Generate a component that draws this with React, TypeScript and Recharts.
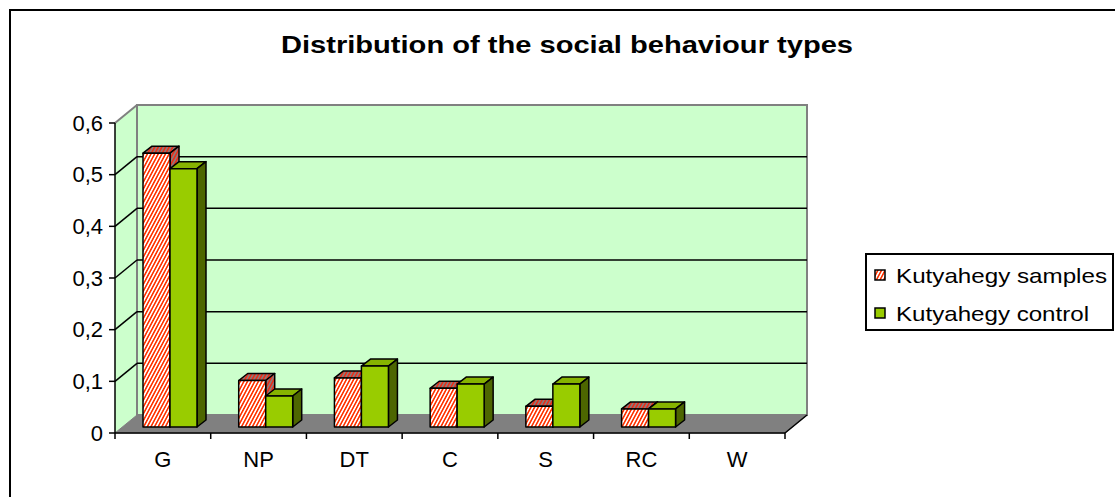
import { BarChart, Bar, XAxis, YAxis, ReferenceArea, Legend } from 'recharts';

const categories = ['G', 'NP', 'DT', 'C', 'S', 'RC', 'W'];
const samplesValues = [0.53, 0.09, 0.095, 0.075, 0.04, 0.035, 0];
const controlValues = [0.5, 0.06, 0.118, 0.083, 0.083, 0.035, 0];
const yTicks = [0, 0.1, 0.2, 0.3, 0.4, 0.5, 0.6];
const seriesNames = ['Kutyahegy samples', 'Kutyahegy control'];

const data = categories.map((name, i) => ({
    name,
    samples: samplesValues[i],
    control: controlValues[i],
}));

const FONT = '"Liberation Sans", Arial, sans-serif';

// 3D look: wall depth and bar offsets
const WALL_DX = 22;
const WALL_DY = 18;
const BAR_SHIFT_X = 7;
const BAR_SHIFT_Y = -6;
const BAR_DX = 9;
const BAR_DY = 7;

const STYLES: Record<string, { front: string; top: string; side: string }> = {
    samples: { front: 'url(#hatchFront)', top: 'url(#hatchDark)', side: 'url(#hatchDark)' },
    control: { front: '#99CC00', top: '#86B300', side: '#4D6600' },
};

const Box3D = (props: any) => {
    const { x, y, width, height, kind } = props;
    if (!height || height <= 0) return null;
    const s = STYLES[kind];
    const X = x + BAR_SHIFT_X;
    const Y = y + BAR_SHIFT_Y;
    const common = { stroke: '#000', strokeWidth: 1.5, strokeLinejoin: 'round' as const };
    return (
        <g>
            <polygon
                points={`${X},${Y} ${X + BAR_DX},${Y - BAR_DY} ${X + width + BAR_DX},${Y - BAR_DY} ${X + width},${Y}`}
                fill={s.top}
                {...common}
            />
            <polygon
                points={`${X + width},${Y} ${X + width + BAR_DX},${Y - BAR_DY} ${X + width + BAR_DX},${Y + height - BAR_DY} ${X + width},${Y + height}`}
                fill={s.side}
                {...common}
            />
            <rect x={X} y={Y} width={width} height={height} fill={s.front} {...common} />
        </g>
    );
};

// walls, floor and gridlines, built from the plot rectangle
const Walls = (props: any) => {
    const { x, y, width: w, height: h } = props;
    const n = categories.length;
    const steps = yTicks.length - 1;
    const bottom = y + h;
    return (
        <g>
            <polygon
                points={`${x},${bottom} ${x + WALL_DX},${bottom - WALL_DY} ${x + WALL_DX},${y - WALL_DY} ${x},${y}`}
                fill="#CCFFCC"
            />
            <rect x={x + WALL_DX} y={y - WALL_DY} width={w} height={h} fill="#CCFFCC" stroke="#808080" strokeWidth={2} />
            <line x1={x} y1={y} x2={x + WALL_DX} y2={y - WALL_DY} stroke="#808080" strokeWidth={2} />
            {yTicks.slice(1, -1).map((t, i) => {
                const yy = bottom - (h * (i + 1)) / steps;
                return (
                    <g key={t}>
                        <line x1={x} y1={yy} x2={x + WALL_DX} y2={yy - WALL_DY} stroke="#000" strokeWidth={1.5} />
                        <line x1={x + WALL_DX} y1={yy - WALL_DY} x2={x + w + WALL_DX} y2={yy - WALL_DY} stroke="#000" strokeWidth={1.5} />
                    </g>
                );
            })}
            <polygon
                points={`${x},${bottom} ${x + w},${bottom} ${x + w + WALL_DX},${bottom - WALL_DY} ${x + WALL_DX},${bottom - WALL_DY}`}
                fill="#808080"
                stroke="#808080"
            />
            <line x1={x + w} y1={bottom} x2={x + w + WALL_DX} y2={bottom - WALL_DY} stroke="#000" strokeWidth={1.5} />
            {Array.from({ length: n + 1 }).map((_, k) => (
                <line key={k} x1={x + (k * w) / n} y1={bottom} x2={x + (k * w) / n} y2={bottom + 6} stroke="#000" strokeWidth={1.5} />
            ))}
        </g>
    );
};

const LEGEND_LENGTHS: Record<string, number> = { 'Kutyahegy samples': 211, 'Kutyahegy control': 193 };

const LegendBox = (props: any) => {
    const items = [...(props.payload || [])].sort(
        (a: any, b: any) => seriesNames.indexOf(a.value) - seriesNames.indexOf(b.value)
    );
    return (
        <div style={{ width: 249, height: 78, border: '2px solid #000', boxSizing: 'border-box', background: '#fff' }}>
            <svg width={245} height={74}>
                {items.map((entry: any, i: number) => {
                    const cy = 20 + i * 38;
                    const fill = entry.dataKey === 'samples' ? 'url(#hatchFront)' : '#99CC00';
                    return (
                        <g key={i}>
                            <rect x={8} y={cy - 5} width={10} height={10} fill={fill} stroke="#000" strokeWidth={1.5} />
                            <text
                                x={29}
                                y={cy + 7.5}
                                fontFamily={FONT}
                                fontSize={21}
                                fill="#000"
                                textLength={LEGEND_LENGTHS[entry.value]}
                                lengthAdjust="spacingAndGlyphs"
                            >
                                {entry.value}
                            </text>
                        </g>
                    );
                })}
            </svg>
        </div>
    );
};

export default function App() {
    return (
        <div style={{ position: 'relative', width: 1115, height: 497, overflow: 'hidden', background: '#fff' }}>
            <style>{`body{margin:0}`}</style>
            <div style={{ position: 'absolute', left: 9, top: 9, width: 1200, height: 600, border: '2px solid #000' }} />
            <BarChart
                width={1115}
                height={497}
                data={data}
                margin={{ top: 123, right: 330, bottom: 24, left: 45 }}
                barGap={0}
                barSize={27}
            >
                <defs>
                    <pattern id="hatchFront" patternUnits="userSpaceOnUse" width={3.2} height={3.2} patternTransform="rotate(28)">
                        <rect width={3.2} height={3.2} fill="#fff" />
                        <rect width={1.6} height={3.2} fill="#FF3300" />
                    </pattern>
                    <pattern id="hatchDark" patternUnits="userSpaceOnUse" width={3.2} height={3.2} patternTransform="rotate(28)">
                        <rect width={3.2} height={3.2} fill="#8C7A7A" />
                        <rect width={1.6} height={3.2} fill="#E8301A" />
                    </pattern>
                </defs>
                <ReferenceArea y1={0} y2={0.6} shape={<Walls />} ifOverflow="visible" />
                <XAxis
                    dataKey="name"
                    interval={0}
                    tickLine={false}
                    axisLine={{ stroke: '#000', strokeWidth: 1.5 }}
                    tick={{ fill: '#000', fontSize: 22, fontFamily: FONT }}
                    tickMargin={12}
                    height={40}
                />
                <YAxis
                    domain={[0, 0.6]}
                    ticks={yTicks}
                    width={70}
                    tickSize={6}
                    tickMargin={6}
                    tickLine={{ stroke: '#000', strokeWidth: 1.5 }}
                    axisLine={{ stroke: '#000', strokeWidth: 1.5 }}
                    tick={{ fill: '#000', fontSize: 22, fontFamily: FONT }}
                    tickFormatter={(v: number) => String(v).replace('.', ',')}
                />
                <Bar dataKey="samples" name={seriesNames[0]} shape={<Box3D kind="samples" />} isAnimationActive={false} />
                <Bar dataKey="control" name={seriesNames[1]} shape={<Box3D kind="control" />} isAnimationActive={false} />
                <Legend
                    layout="vertical"
                    align="center"
                    verticalAlign="middle"
                    content={<LegendBox />}
                    wrapperStyle={{ left: 865, top: 253, width: 249, height: 78 }}
                />
            </BarChart>
            <svg width={1115} height={497} style={{ position: 'absolute', left: 0, top: 0, pointerEvents: 'none' }}>
                <text
                    x={281}
                    y={53}
                    fontFamily={FONT}
                    fontWeight="bold"
                    fontSize={23}
                    fill="#000"
                    textLength={572}
                    lengthAdjust="spacingAndGlyphs"
                >
                    Distribution of the social behaviour types
                </text>
            </svg>
        </div>
    );
}
